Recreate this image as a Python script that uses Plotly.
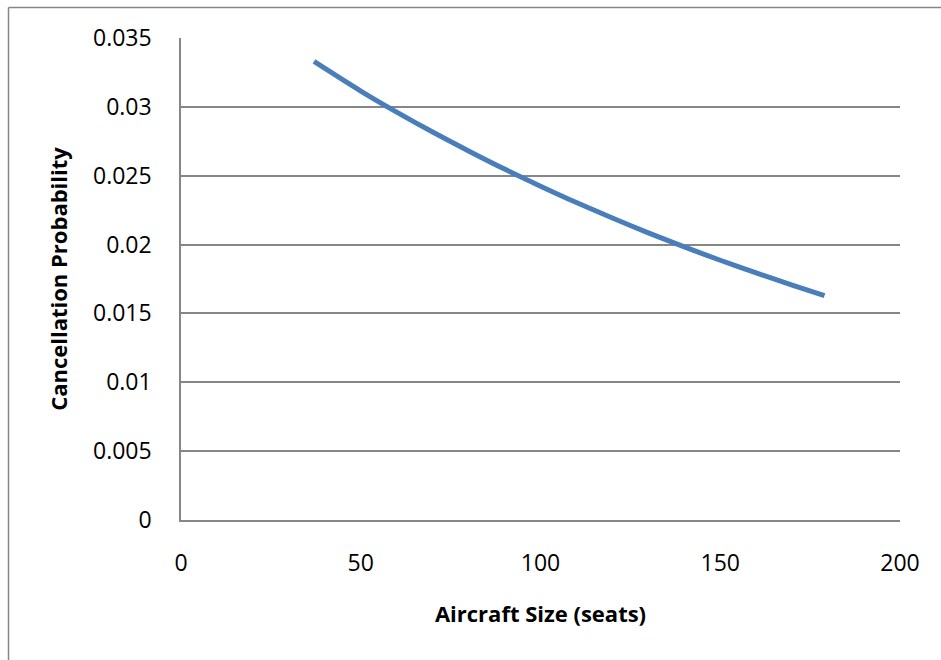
import plotly.graph_objects as go

# Cancellation probability versus aircraft size
seats = [37, 50, 60, 70, 80, 90, 100, 110, 120, 130, 140, 150, 160, 170, 179]
cancel_prob = [0.03330, 0.03115, 0.02962, 0.02817, 0.02680, 0.02548, 0.02424, 0.02305,
               0.02193, 0.02085, 0.01983, 0.01886, 0.01794, 0.01706, 0.01630]

x_ticks = [0, 50, 100, 150, 200]
y_ticks = [0, 0.005, 0.01, 0.015, 0.02, 0.025, 0.03, 0.035]
y_tick_text = ["0", "0.005", "0.01", "0.015", "0.02", "0.025", "0.03", "0.035"]

W, H = 941, 660
ML, MR, MT, MB = 181, 41, 38, 140

grid = "#868686"
tick_font = dict(family="Open Sans", size=23, color="#000000")
title_font = dict(family="Open Sans", size=22, color="#000000")

fig = go.Figure()
fig.add_trace(go.Scatter(
    x=seats, y=cancel_prob, mode="lines",
    line=dict(color="#4A7EBB", width=5, shape="spline", smoothing=0.8),
    hoverinfo="skip", showlegend=False,
))

pw = W - ML - MR
ph = H - MT - MB

def px_x(p):
    return (p - ML) / pw

def px_y(p):
    return (H - MB - p) / ph

fig.update_layout(
    width=W, height=H,
    margin=dict(l=ML, r=MR, t=MT, b=MB, pad=0),
    paper_bgcolor="white", plot_bgcolor="white",
    xaxis=dict(
        range=[0, 200], tickvals=x_ticks, showgrid=False, zeroline=False,
        showline=True, linecolor=grid, linewidth=1.5, ticks="",
        tickfont=tick_font, ticklabelstandoff=22,
        title=dict(text="<b>Aircraft Size (seats)</b>", font=title_font, standoff=29),
        fixedrange=True,
    ),
    yaxis=dict(
        range=[0, 0.035], tickvals=y_ticks, ticktext=y_tick_text,
        showgrid=True, gridcolor=grid, gridwidth=1.5, zeroline=False,
        showline=True, linecolor=grid, linewidth=1.5, ticks="",
        tickfont=tick_font, ticklabelstandoff=23,
        title=dict(text="<b>Cancellation Probability</b>", font=title_font, standoff=19),
        fixedrange=True,
    ),
    shapes=[
        # chart frame along the left and top edges
        dict(type="line", xref="paper", yref="paper",
             x0=px_x(8.5), x1=px_x(8.5), y0=px_y(7.5), y1=px_y(H + 5),
             line=dict(color=grid, width=1.5)),
        dict(type="line", xref="paper", yref="paper",
             x0=px_x(8.5), x1=px_x(W + 5), y0=px_y(7.5), y1=px_y(7.5),
             line=dict(color=grid, width=1.5)),
    ],
)

fig.write_html("out.html")
